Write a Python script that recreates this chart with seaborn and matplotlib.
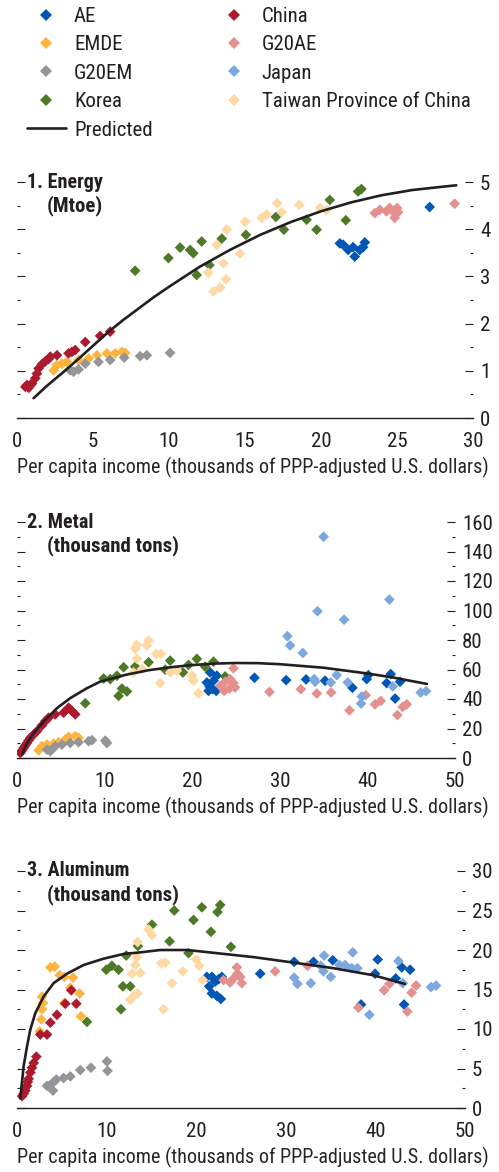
import pandas as pd
import numpy as np
import matplotlib
matplotlib.use('Agg')
import matplotlib.pyplot as plt
import seaborn as sns
from matplotlib.lines import Line2D
from matplotlib.ticker import MultipleLocator

# ---- data: (income, consumption) pairs ----
# panel 1 energy (Mtoe)
energy_ae = [(21.24, 3.7), (21.46, 3.67), (21.79, 3.56), (22.11, 3.62), (22.22, 3.42),
             (22.55, 3.56), (22.77, 3.62), (22.88, 3.72), (27.15, 4.47)]
energy_emde = [(2.41, 1.01), (2.63, 1.12), (2.96, 1.15), (3.28, 1.19), (4.05, 1.23),
               (4.71, 1.26), (5.26, 1.33), (5.91, 1.37), (6.46, 1.37), (6.9, 1.4), (7.12, 1.38)]
energy_g20em = [(3.5, 1.01), (3.72, 0.98), (4.05, 1.03), (4.49, 1.15), (5.36, 1.19),
                (6.13, 1.23), (7.05, 1.28), (8.1, 1.31), (8.54, 1.33), (10.07, 1.38)]
energy_korea = [(7.77, 3.12), (9.96, 3.39), (10.73, 3.61), (11.39, 3.56), (11.6, 3.49),
                (12.15, 3.74), (11.82, 3.03), (12.66, 3.24), (13.47, 3.8), (15.06, 3.88),
                (17.03, 4.26), (17.56, 3.99), (19.05, 4.2), (19.71, 3.99), (20.58, 4.62),
                (21.63, 4.19), (22.44, 4.8), (22.66, 4.85)]
energy_china = [(0.55, 0.66), (0.66, 0.7), (0.77, 0.64), (0.88, 0.7), (0.99, 0.73), (1.2, 0.84),
                (1.31, 0.94), (1.42, 1.05), (1.64, 1.14), (1.86, 1.2), (2.08, 1.25), (2.19, 1.3),
                (2.63, 1.33), (3.39, 1.37), (3.61, 1.4), (3.83, 1.44), (4.49, 1.61),
                (5.47, 1.74), (6.13, 1.83)]
energy_g20ae = [(23.54, 4.34), (23.87, 4.41), (24.3, 4.38), (24.52, 4.45), (24.85, 4.34),
                (25.0, 4.45), (25.07, 4.36), (24.85, 4.24), (28.79, 4.54)]
energy_japan = []
energy_taiwan = [(13.14, 3.67), (12.59, 3.08), (12.92, 2.68), (13.36, 2.76), (13.75, 2.94),
                 (13.58, 3.28), (13.79, 3.99), (14.67, 3.48), (15.0, 4.16), (16.09, 4.24),
                 (16.42, 4.31), (17.12, 4.55), (17.41, 4.36), (18.57, 4.52), (19.93, 4.45),
                 (20.36, 4.4)]
energy_pred_x = [1.09, 2, 3, 4, 5, 6, 7, 8, 9, 10, 12, 14, 16, 18, 20, 22, 24, 26, 28, 28.9]
energy_pred_y = [0.42, 0.69, 0.96, 1.24, 1.53, 1.82, 2.08, 2.32, 2.56, 2.78, 3.2, 3.56,
                 3.88, 4.15, 4.38, 4.57, 4.72, 4.83, 4.9, 4.93]

# panel 2 metal (thousand tons)
metal_ae = [(21.67, 51.2), (22.05, 58.0), (22.43, 52.4), (22.81, 55.8), (21.86, 45.5),
            (22.32, 46.7), (22.74, 45.5), (21.98, 48.5), (27.11, 54.4), (30.72, 52.8),
            (33.0, 53.3), (35.17, 52.4), (38.29, 47.6), (39.92, 53.5), (40.11, 56.2),
            (42.2, 50.8), (42.66, 56.9), (43.16, 40.3), (43.73, 51.7)]
metal_emde = [(2.47, 5.2), (2.85, 8.0), (3.42, 9.1), (4.18, 9.8), (4.75, 10.7), (5.51, 12.5),
              (5.89, 14.3), (6.65, 14.8), (7.03, 13.7)]
metal_g20em = [(3.42, 5.7), (3.8, 4.6), (4.37, 8.0), (5.13, 9.1), (6.08, 10.2), (7.03, 10.7),
               (8.17, 11.4), (8.56, 12.1), (10.08, 11.8), (10.27, 10.2)]
metal_korea = [(7.79, 37.1), (9.89, 53.9), (10.65, 53.5), (11.41, 55.8), (11.6, 42.1),
               (11.98, 47.1), (12.55, 45.1), (12.17, 61.5), (13.5, 61.9), (15.02, 64.9),
               (16.92, 59.9), (17.49, 66.0), (18.94, 58.0), (19.58, 63.1), (20.53, 67.2),
               (21.48, 61.9), (22.43, 65.3), (23.76, 55.3)]
metal_china = [(0.38, 3.4), (0.57, 5.0), (0.76, 6.8), (0.95, 8.5), (1.14, 10.2), (1.33, 12.0),
               (1.52, 13.7), (1.9, 15.9), (2.28, 18.2), (2.85, 22.1), (3.23, 25.0), (3.61, 27.3),
               (4.37, 29.6), (5.32, 30.7), (5.89, 34.1), (6.27, 31.9), (6.65, 29.6)]
metal_g20ae = [(23.19, 48.9), (23.76, 51.7), (24.33, 53.5), (24.71, 50.8), (24.9, 47.8),
               (23.65, 45.5), (24.26, 47.1), (24.71, 60.8), (28.82, 44.8), (32.4, 46.7),
               (34.22, 43.7), (35.86, 44.4), (37.95, 32.3), (39.81, 42.6), (40.87, 36.4),
               (41.52, 38.7), (43.42, 29.1), (44.03, 34.6), (44.49, 36.4)]
metal_japan = [(35.0, 150.0), (30.87, 82.6), (31.18, 76.3), (32.62, 71.2), (34.3, 99.5),
               (37.34, 93.8), (33.92, 53.5), (34.03, 51.7), (35.82, 51.2), (36.5, 56.2),
               (37.76, 51.2), (39.35, 41.7), (39.28, 36.9), (42.51, 107.4), (42.89, 48.5),
               (46.08, 44.4), (46.69, 45.3)]
metal_taiwan = [(13.5, 74.0), (13.69, 76.7), (14.83, 76.3), (15.02, 79.7), (13.69, 67.2),
                (13.31, 58.0), (14.26, 60.3), (16.35, 50.8), (15.89, 70.6), (16.43, 70.6),
                (17.49, 58.0), (18.25, 59.2), (19.96, 55.8), (20.15, 52.4), (20.72, 43.9)]
metal_pred_x = [0.57, 1.14, 1.9, 3.04, 4.56, 6.08, 7.98, 9.5, 12.5, 15, 17.5, 20, 22.5, 25,
                27.5, 30, 35, 40, 43, 46.8]
metal_pred_y = [2.2, 10.1, 16.9, 24.7, 33.8, 40.6, 47.3, 51.8, 56.5, 59.5, 61.5, 63.0, 64.0,
                64.4, 64.3, 63.6, 61.2, 57.3, 54.5, 50.2]

# panel 3 aluminum (thousand tons)
alum_ae = [(21.19, 16.6), (21.75, 16.6), (22.49, 16.3), (22.86, 16.6), (21.45, 15.4),
           (21.75, 14.5), (22.3, 14.2), (22.75, 13.8), (22.12, 16.0), (27.14, 17.0),
           (30.93, 18.5), (33.09, 18.5), (35.24, 18.7), (38.4, 13.1), (39.96, 17.0),
           (40.26, 18.8), (42.27, 16.4), (42.94, 17.8), (43.87, 17.5), (43.2, 13.1)]
alum_emde = [(2.53, 9.7), (2.71, 11.2), (2.79, 12.5), (2.9, 13.3), (2.79, 14.1), (3.72, 17.8),
             (4.2, 17.9), (4.76, 16.8), (5.28, 16.6), (5.28, 13.3), (6.25, 16.5), (5.95, 15.2),
             (6.99, 14.5), (7.14, 11.6)]
alum_g20em = [(3.35, 2.8), (3.72, 2.9), (4.09, 3.3), (4.39, 3.6), (4.01, 2.2), (5.2, 3.8),
              (5.95, 4.0), (7.06, 4.8), (8.25, 5.1), (10.04, 5.9), (10.11, 4.7)]
alum_korea = [(7.81, 10.9), (9.96, 17.5), (10.59, 18.0), (11.34, 17.5), (11.82, 15.4),
              (12.64, 15.4), (11.6, 12.5), (12.19, 19.3), (13.49, 20.5), (15.06, 23.2),
              (17.03, 21.1), (17.55, 25.0), (19.14, 19.6), (19.7, 23.8), (20.63, 25.4),
              (21.64, 22.3), (22.38, 24.8), (22.68, 25.7), (23.87, 20.4)]
alum_china = [(0.56, 1.5), (0.74, 1.8), (0.84, 2.5), (0.93, 2.2), (1.12, 2.8), (1.2, 3.3),
              (1.3, 3.7), (1.49, 4.5), (1.67, 5.1), (1.86, 5.7), (2.16, 6.5), (2.6, 9.3),
              (3.35, 9.3), (3.72, 10.8), (4.46, 11.8), (5.39, 13.2), (6.06, 14.9), (6.62, 13.2)]
alum_g20ae = [(23.05, 16.2), (23.79, 15.9), (24.16, 16.4), (24.54, 17.8), (24.61, 17.0),
              (24.91, 16.6), (25.09, 15.8), (28.81, 17.3), (32.42, 18.0), (38.1, 12.7),
              (40.97, 14.9), (41.56, 15.7), (43.57, 12.2), (44.05, 14.6), (44.54, 15.5)]
alum_japan = [(30.93, 16.5), (31.3, 15.7), (32.79, 15.8), (34.28, 19.3), (33.9, 18.0),
              (34.2, 17.3), (35.02, 16.6), (35.99, 18.1), (36.62, 18.1), (37.47, 19.7),
              (37.36, 17.7), (37.99, 17.7), (39.33, 11.8), (42.57, 18.6), (43.05, 15.8),
              (46.21, 15.3), (46.77, 15.5)]
alum_taiwan = [(13.46, 21.0), (13.38, 19.1), (13.2, 18.1), (12.83, 17.0), (13.75, 17.1),
               (13.09, 14.3), (13.46, 14.5), (12.64, 13.7), (14.68, 22.6), (15.06, 21.9),
               (16.1, 18.3), (16.54, 18.4), (17.29, 15.8), (18.51, 17.3), (20.0, 18.8),
               (20.33, 18.0), (20.74, 16.2), (16.36, 12.5)]
alum_pred_x = [0.37, 0.74, 1.12, 1.48, 2.04, 2.97, 4.08, 5.58, 7.43, 9.66, 11.9, 13.75, 16,
               19, 22.3, 26.4, 30.9, 35.3, 39.8, 43.3]
alum_pred_y = [1.2, 5.3, 7.8, 9.9, 12.0, 14.1, 15.8, 17.0, 18.1, 18.9, 19.5, 19.7, 20.0,
               20.0, 19.6, 19.1, 18.4, 17.7, 16.8, 15.7]

groups = ['AE', 'EMDE', 'G20EM', 'Korea', 'China', 'G20AE', 'Japan', 'Taiwan Province of China']
colors = {'AE': '#0057B5', 'EMDE': '#FDB53F', 'G20EM': '#939598', 'Korea': '#4E7A28',
          'China': '#AD1A2E', 'G20AE': '#E3908E', 'Japan': '#7CA8DF',
          'Taiwan Province of China': '#FFD9A3'}

xlabel = 'Per capita income (thousands of PPP-adjusted U.S. dollars)'
ink = '#231F20'

sns.set_style('white')
# condensed face, falls back to DejaVu Sans Condensed
plt.rcParams['font.family'] = ['Roboto Condensed', 'DejaVu Sans']
plt.rcParams['font.stretch'] = 'condensed'
plt.rcParams['text.color'] = ink
plt.rcParams['xtick.color'] = ink
plt.rcParams['ytick.color'] = ink


def make_df(series):
    rows = []
    for g, pts in zip(groups, series):
        for x, y in pts:
            rows.append({'income': x, 'value': y, 'group': g})
    return pd.DataFrame(rows)


def draw_panel(ax, series, px, py, xmax, ymax, xstep, ystep, title, unit):
    df = make_df(series)
    sns.scatterplot(data=df, x='income', y='value', hue='group', palette=colors,
                    marker='D', s=30, linewidth=0, ax=ax, legend=False, zorder=2)
    ax.plot(px, py, color=ink, lw=1.9, zorder=3)
    ax.set_xlim(0, xmax)
    ax.set_ylim(0, ymax)
    ax.xaxis.set_major_locator(MultipleLocator(xstep))
    ax.yaxis.set_major_locator(MultipleLocator(ystep))
    ax.yaxis.set_minor_locator(MultipleLocator(ystep / 2))
    for s in ['top', 'left', 'right']:
        ax.spines[s].set_visible(False)
    ax.spines['bottom'].set_color(ink)
    ax.spines['bottom'].set_linewidth(1.0)
    ax.yaxis.set_ticks_position('both')
    ax.tick_params(axis='y', which='both', direction='in', labelleft=False,
                   labelright=True, labelsize=15, pad=5, width=0.8)
    ax.tick_params(axis='y', which='major', length=6)
    ax.tick_params(axis='y', which='minor', length=2.5)
    ax.tick_params(axis='x', direction='in', length=5, labelsize=15, pad=10, width=1.0)
    ax.set_xlabel(xlabel, loc='left', fontsize=14.5, labelpad=4.5)
    ax.set_ylabel('')
    ax.annotate(title, xy=(0, 1), xycoords='axes fraction', xytext=(7.5, 0),
                textcoords='offset points', va='center', ha='left',
                fontsize=14.5, fontweight='bold')
    ax.annotate(unit, xy=(0, 1), xycoords='axes fraction', xytext=(21.5, -17),
                textcoords='offset points', va='center', ha='left',
                fontsize=15, fontweight='bold')


W, H = 499, 1172
fig = plt.figure(figsize=(W / 100, H / 100), dpi=100)

ax1 = fig.add_axes([17 / W, (H - 418) / H, 456 / W, 236 / H])
ax2 = fig.add_axes([17 / W, (H - 758) / H, 438 / W, 236 / H])
ax3 = fig.add_axes([17 / W, (H - 1108) / H, 448 / W, 237 / H])

draw_panel(ax1, [energy_ae, energy_emde, energy_g20em, energy_korea, energy_china,
                 energy_g20ae, energy_japan, energy_taiwan],
           energy_pred_x, energy_pred_y, 30, 5, 5, 1, '1. Energy', '(Mtoe)')
draw_panel(ax2, [metal_ae, metal_emde, metal_g20em, metal_korea, metal_china,
                 metal_g20ae, metal_japan, metal_taiwan],
           metal_pred_x, metal_pred_y, 50, 160, 10, 20, '2. Metal', '(thousand tons)')
draw_panel(ax3, [alum_ae, alum_emde, alum_g20em, alum_korea, alum_china,
                 alum_g20ae, alum_japan, alum_taiwan],
           alum_pred_x, alum_pred_y, 50, 30, 10, 5, '3. Aluminum', '(thousand tons)')


def dot(g):
    return Line2D([], [], marker='D', linestyle='', color=colors[g], markersize=6,
                  markeredgewidth=0, label=g)


handles = [dot('AE'), dot('EMDE'), dot('G20EM'), dot('Korea'),
           Line2D([], [], color=ink, lw=1.9, label='Predicted'),
           dot('China'), dot('G20AE'), dot('Japan'), dot('Taiwan Province of China')]
fig.legend(handles=handles, loc='upper left', bbox_to_anchor=(27 / W, 1 - 7 / H),
           ncol=2, frameon=False, fontsize=15, borderpad=0, borderaxespad=0,
           handlelength=1.85, handletextpad=0.4, columnspacing=3.0, labelspacing=0.45)

fig.savefig('out.png', dpi=100)
